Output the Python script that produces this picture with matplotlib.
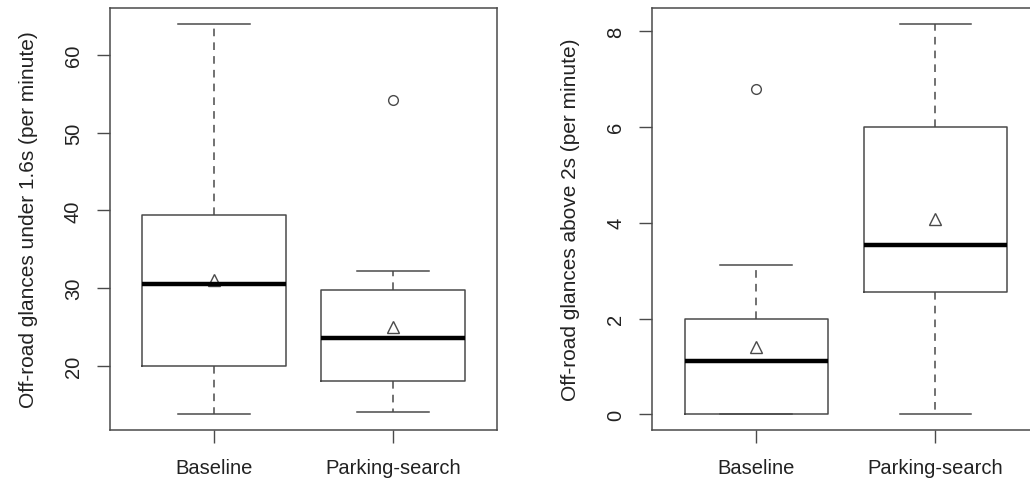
import matplotlib.pyplot as plt

plt.rcParams['font.family'] = ['Liberation Sans', 'DejaVu Sans']

groups = ['Baseline', 'Parking-search']

# glances under 1.6s per minute
short_med = [30.5, 23.6]
short_q1 = [20.0, 18.1]
short_q3 = [39.4, 29.8]
short_lo = [13.8, 14.1]
short_hi = [64.0, 32.2]
short_mean = [31.1, 25.0]
short_out = [[], [54.2]]

# glances above 2s per minute
long_med = [1.11, 3.53]
long_q1 = [0.0, 2.55]
long_q3 = [2.0, 6.0]
long_lo = [0.0, 0.0]
long_hi = [3.12, 8.15]
long_mean = [1.40, 4.07]
long_out = [[6.79], []]

line_col = '#4a4a4a'
text_col = '#222222'


def make_stats(med, q1, q3, lo, hi, mean, out):
    stats = []
    for i in range(len(groups)):
        stats.append(dict(med=med[i], q1=q1[i], q3=q3[i], whislo=lo[i],
                          whishi=hi[i], mean=mean[i], fliers=out[i],
                          label=groups[i]))
    return stats


def draw_panel(ax, stats, ylabel, yticks):
    ax.bxp(stats, positions=[1, 2], widths=0.8, capwidths=0.4,
           showmeans=True, patch_artist=False,
           boxprops=dict(color=line_col, linewidth=1.1),
           medianprops=dict(color='black', linewidth=3.2, solid_capstyle='butt',
                            zorder=4),
           whiskerprops=dict(color=line_col, linewidth=1.1, linestyle=(0, (5, 4))),
           capprops=dict(color=line_col, linewidth=1.1),
           flierprops=dict(marker='o', markerfacecolor='white',
                           markeredgecolor=line_col, markersize=7),
           meanprops=dict(marker='^', markerfacecolor='white',
                          markeredgecolor=line_col, markersize=8.5, zorder=3))
    lo = min(s['whislo'] for s in stats)
    hi = max([s['whishi'] for s in stats] + [f for s in stats for f in s['fliers']])
    pad = 0.04 * (hi - lo)
    ax.set_ylim(lo - pad, hi + pad)
    ax.set_xlim(0.42, 2.58)
    ax.set_yticks(yticks)
    ax.set_xticks([1, 2])
    ax.set_xticklabels(groups)
    ax.tick_params(axis='y', length=9.5, width=1, color=line_col, pad=10,
                   labelsize=14.5, labelcolor=text_col)
    ax.tick_params(axis='x', length=9, width=1, color=line_col, pad=11,
                   labelsize=14.5, labelcolor=text_col)
    for lab in ax.get_yticklabels():
        lab.set_rotation(90)
        lab.set_va('center')
    for sp in ax.spines.values():
        sp.set_color(line_col)
        sp.set_linewidth(1.1)
    ax.set_ylabel(ylabel, fontsize=15, color=text_col, labelpad=19)


fig = plt.figure(figsize=(10.3, 4.81), dpi=100)
ax1 = fig.add_axes([0.1068, 0.104, 0.3757, 0.877])
ax2 = fig.add_axes([0.6333, 0.104, 0.3757, 0.877])

draw_panel(ax1, make_stats(short_med, short_q1, short_q3, short_lo, short_hi,
                           short_mean, short_out),
           'Off-road glances under 1.6s (per minute)', [20, 30, 40, 50, 60])
draw_panel(ax2, make_stats(long_med, long_q1, long_q3, long_lo, long_hi,
                           long_mean, long_out),
           'Off-road glances above 2s (per minute)', [0, 2, 4, 6, 8])

fig.savefig('out.png', dpi=100)
